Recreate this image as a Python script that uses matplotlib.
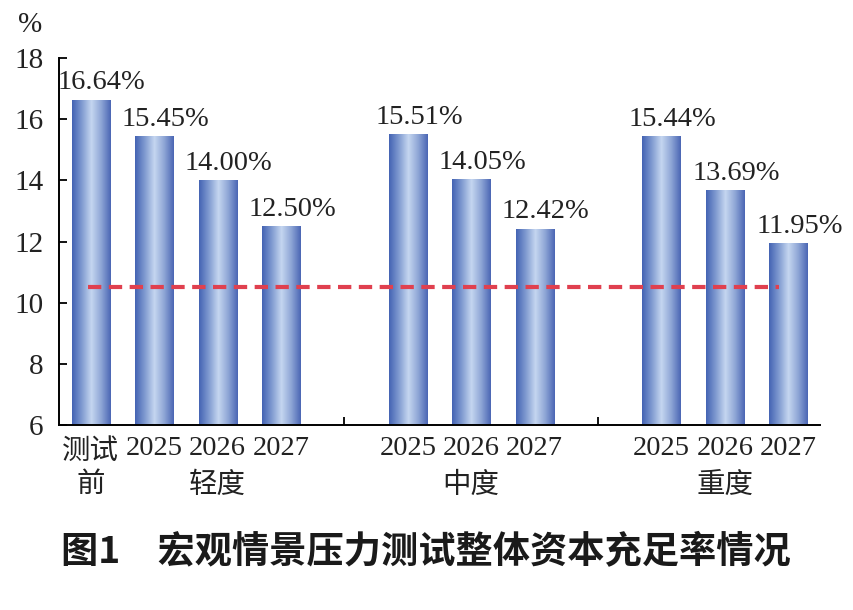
import matplotlib
matplotlib.use("Agg")
import matplotlib.pyplot as plt
import numpy as np
from matplotlib.colors import LinearSegmentedColormap
from matplotlib.patches import Rectangle

# ---- data ----
positions = [0, 1, 2, 3, 5, 6, 7, 9, 10, 11]
values = [16.64, 15.45, 14.00, 12.50, 15.51, 14.05, 12.42, 15.44, 13.69, 11.95]
value_labels = ["16.64%", "15.45%", "14.00%", "12.50%", "15.51%", "14.05%",
                "12.42%", "15.44%", "13.69%", "11.95%"]
tick_labels = ["测试\n前", "2025", "2026", "2027", "2025", "2026", "2027",
               "2025", "2026", "2027"]
group_names = ["轻度", "中度", "重度"]
group_centers = [2, 6, 10]
threshold = 10.5
y_ticks = [6, 8, 10, 12, 14, 16, 18]
title = "图1　宏观情景压力测试整体资本充足率情况"

SERIF = ["Liberation Serif", "Noto Sans CJK SC"]
CJK = ["Noto Sans CJK SC", "Liberation Serif"]

fig = plt.figure(figsize=(8.54, 6.10), dpi=100)
ax = fig.add_axes([59 / 854, 1 - 425 / 610, (820 - 59) / 854, (425 - 58) / 610])
ax.set_xlim(-0.5, 11.5)
ax.set_ylim(6, 18)

# gradient colormap
cmap = LinearSegmentedColormap.from_list(
    "barg", ["#4463b3", "#7f9ad0", "#c5d6f0", "#8fa6d6", "#4a66b4"])
grad = np.linspace(0, 1, 256).reshape(1, -1)
width = 0.6
for x, v in zip(positions, values):
    im = ax.imshow(grad, cmap=cmap, aspect="auto",
                   extent=[x - width / 2, x + width / 2, 6, v], zorder=2)
    rect = Rectangle((x - width / 2, 6), width, v - 6, transform=ax.transData,
                     facecolor="none", edgecolor="none")
    ax.add_patch(rect)
    im.set_clip_path(rect)

ax.set_xlim(-0.5, 11.5)
ax.set_ylim(6, 18)

# threshold line
ax.plot([-0.05, 10.85], [threshold, threshold], color="#e0404f", lw=3.0,
        ls=(0, (3.2, 1.8)), zorder=3)

# value labels
for x, v, s in zip(positions, values, value_labels):
    ax.annotate(s, (x, v), xytext=(8, 3), textcoords="offset points",
                ha="center", va="bottom", fontsize=20.5, family=SERIF,
                color="#222222")

# spines / ticks
for sp in ["top", "right"]:
    ax.spines[sp].set_visible(False)
ax.spines["left"].set_linewidth(1.4)
ax.spines["bottom"].set_linewidth(1.4)
ax.set_yticks(y_ticks)
ax.set_yticklabels([str(t) for t in y_ticks], family=SERIF, fontsize=21,
                   color="#222222")
ax.tick_params(axis="y", direction="in", length=6, width=1.3, pad=11)
ax.set_xticks([4, 8])
ax.set_xticklabels(["", ""])
ax.tick_params(axis="x", direction="in", length=6, width=1.3)

# category labels
for x, s in zip(positions, tick_labels):
    ax.text(x, -0.03, s, transform=ax.get_xaxis_transform(), ha="center",
            va="top", fontsize=20.5, family=SERIF if s[0].isdigit() else CJK,
            color="#222222", linespacing=1.12)
for x, s in zip(group_centers, group_names):
    ax.text(x, -0.123, s, transform=ax.get_xaxis_transform(), ha="center",
            va="top", fontsize=20.5, family=CJK, color="#222222")

# unit label
fig.text(18 / 854, 1 - 25 / 610, "%", ha="left", va="center", fontsize=21,
         family=SERIF, color="#222222")

# title
fig.text(426 / 854, 1 - 553 / 610, title, ha="center", va="center",
         fontsize=26.8, family=CJK, fontweight="bold", color="#1a1a1a")

fig.savefig("out.png", dpi=100)
